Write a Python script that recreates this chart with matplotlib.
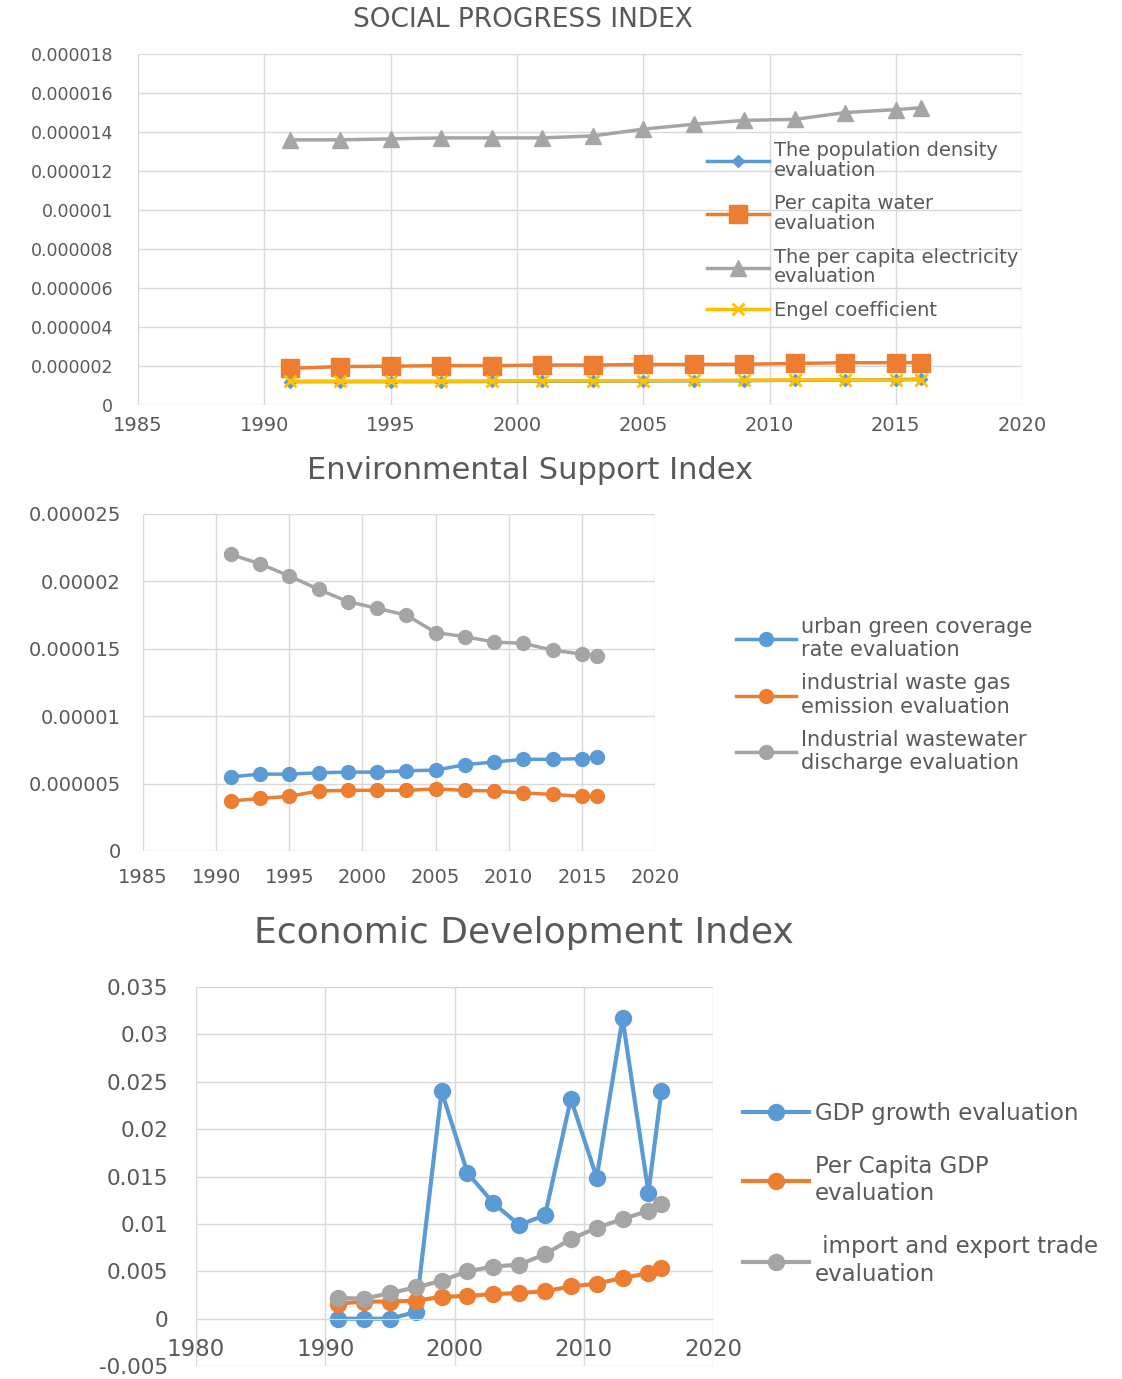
import matplotlib
matplotlib.use('Agg')
import matplotlib.pyplot as plt

# years shared by all three panels
years = [1991, 1993, 1995, 1997, 1999, 2001, 2003, 2005, 2007, 2009, 2011, 2013, 2015, 2016]

# --- Social progress index ---
pop_density = [1.20e-6, 1.20e-6, 1.20e-6, 1.20e-6, 1.21e-6, 1.22e-6, 1.22e-6, 1.23e-6, 1.24e-6, 1.25e-6, 1.27e-6, 1.28e-6, 1.30e-6, 1.33e-6]
water = [1.88e-6, 1.97e-6, 1.99e-6, 2.02e-6, 2.02e-6, 2.05e-6, 2.05e-6, 2.08e-6, 2.08e-6, 2.09e-6, 2.13e-6, 2.17e-6, 2.17e-6, 2.18e-6]
electricity = [1.36e-5, 1.36e-5, 1.365e-5, 1.37e-5, 1.37e-5, 1.37e-5, 1.38e-5, 1.415e-5, 1.44e-5, 1.46e-5, 1.465e-5, 1.50e-5, 1.515e-5, 1.525e-5]
engel = [1.22e-6, 1.22e-6, 1.22e-6, 1.22e-6, 1.23e-6, 1.24e-6, 1.24e-6, 1.25e-6, 1.26e-6, 1.27e-6, 1.29e-6, 1.29e-6, 1.28e-6, 1.30e-6]
social_labels = ['The population density\nevaluation', 'Per capita water\nevaluation',
                 'The per capita electricity\nevaluation', 'Engel coefficient']
social_yticks = [0, 0.000002, 0.000004, 0.000006, 0.000008, 0.00001, 0.000012, 0.000014, 0.000016, 0.000018]
social_yticklabels = ['0', '0.000002', '0.000004', '0.000006', '0.000008', '0.00001', '0.000012', '0.000014', '0.000016', '0.000018']

# --- Environmental support index ---
green = [5.5e-6, 5.7e-6, 5.7e-6, 5.8e-6, 5.85e-6, 5.85e-6, 5.95e-6, 6.0e-6, 6.4e-6, 6.6e-6, 6.8e-6, 6.8e-6, 6.85e-6, 6.95e-6]
waste_gas = [3.7e-6, 3.9e-6, 4.05e-6, 4.45e-6, 4.5e-6, 4.5e-6, 4.5e-6, 4.6e-6, 4.5e-6, 4.45e-6, 4.3e-6, 4.2e-6, 4.05e-6, 4.05e-6]
wastewater = [2.2e-5, 2.13e-5, 2.04e-5, 1.94e-5, 1.85e-5, 1.8e-5, 1.75e-5, 1.62e-5, 1.59e-5, 1.55e-5, 1.54e-5, 1.49e-5, 1.46e-5, 1.45e-5]
env_labels = ['urban green coverage\nrate evaluation', 'industrial waste gas\nemission evaluation',
              'Industrial wastewater\ndischarge evaluation']
env_yticks = [0, 0.000005, 0.00001, 0.000015, 0.00002, 0.000025]
env_yticklabels = ['0', '0.000005', '0.00001', '0.000015', '0.00002', '0.000025']

# --- Economic development index ---
gdp_growth = [0.0, 0.0, 0.0, 0.0007, 0.024, 0.0154, 0.0122, 0.0099, 0.0109, 0.0232, 0.0149, 0.0317, 0.0133, 0.024]
gdp_per_capita = [0.0016, 0.0018, 0.0018, 0.0019, 0.0023, 0.0024, 0.0026, 0.0027, 0.0029, 0.0034, 0.0037, 0.0043, 0.0048, 0.0053]
trade = [0.0022, 0.0021, 0.0027, 0.0033, 0.004, 0.005, 0.0055, 0.0057, 0.0068, 0.0084, 0.0096, 0.0105, 0.0114, 0.0121]
eco_labels = ['GDP growth evaluation', 'Per Capita GDP\nevaluation', ' import and export trade\nevaluation']
eco_yticks = [-0.005, 0, 0.005, 0.01, 0.015, 0.02, 0.025, 0.03, 0.035]
eco_yticklabels = ['-0.005', '0', '0.005', '0.01', '0.015', '0.02', '0.025', '0.03', '0.035']

BLUE = '#5B9BD5'
ORANGE = '#ED7D31'
GRAY = '#A5A5A5'
YELLOW = '#FFC000'
GRID = '#D9D9D9'
TEXT = '#595959'

plt.rcParams['font.family'] = ['DejaVu Sans']
fig = plt.figure(figsize=(11.22, 13.79), dpi=100)


def style_axes(ax, xlim, xticks, ylim, yticks, yticklabels):
    ax.set_xlim(*xlim)
    ax.set_ylim(*ylim)
    ax.set_xticks(xticks)
    ax.set_yticks(yticks)
    ax.set_yticklabels(yticklabels)
    ax.grid(True, color=GRID, linewidth=1)
    ax.set_axisbelow(True)
    for s in ax.spines.values():
        s.set_visible(False)
    ax.tick_params(length=0, colors=TEXT)


def style_legend(leg, spacing):
    for t in leg.get_texts():
        t.set_color(TEXT)
        t.set_linespacing(spacing)


# panel 1
ax1 = fig.add_axes([0.123, 0.7063, 0.788, 0.2545])
style_axes(ax1, (1985, 2020), range(1985, 2021, 5), (0, 0.000018),
           social_yticks, social_yticklabels)
ax1.tick_params(axis='y', labelsize=12.5, pad=18)
ax1.tick_params(axis='x', labelsize=14, pad=8)
ax1.plot(years, pop_density, color=BLUE, lw=2.5, marker='D', ms=6, label=social_labels[0])
ax1.plot(years, water, color=ORANGE, lw=2.5, marker='s', ms=13, label=social_labels[1])
ax1.plot(years, electricity, color=GRAY, lw=2.5, marker='^', ms=11, label=social_labels[2])
ax1.plot(years, engel, color=YELLOW, lw=2.5, marker='x', ms=9, mew=2, label=social_labels[3])
leg = ax1.legend(loc='upper left', bbox_to_anchor=(0.632, 0.78), frameon=False,
                 fontsize=14, handlelength=3.2, labelspacing=0.75, borderpad=0, handletextpad=0.25)
style_legend(leg, 1.05)
fig.text(0.466, 0.9855, 'SOCIAL PROGRESS INDEX', ha='center', va='center',
         fontsize=19, color=TEXT)

# panel 2
ax2 = fig.add_axes([0.1275, 0.3829, 0.4563, 0.2444])
style_axes(ax2, (1985, 2020), range(1985, 2021, 5), (0, 0.000025),
           env_yticks, env_yticklabels)
ax2.tick_params(axis='y', labelsize=14, pad=16)
ax2.tick_params(axis='x', labelsize=14, pad=12)
ax2.plot(years, green, color=BLUE, lw=2.5, marker='o', ms=10, label=env_labels[0])
ax2.plot(years, waste_gas, color=ORANGE, lw=2.5, marker='o', ms=10, label=env_labels[1])
ax2.plot(years, wastewater, color=GRAY, lw=2.5, marker='o', ms=10, label=env_labels[2])
leg = ax2.legend(loc='center left', bbox_to_anchor=(1.137, 0.463), frameon=False,
                 fontsize=15, handlelength=2.9, labelspacing=0.65, borderpad=0, handletextpad=0.25)
style_legend(leg, 1.2)
fig.text(0.472, 0.659, 'Environmental Support Index', ha='center', va='center',
         fontsize=22, color=TEXT)

# panel 3
ax3 = fig.add_axes([0.1747, 0.0094, 0.4608, 0.2748])
style_axes(ax3, (1980, 2020), range(1980, 2021, 10), (-0.005, 0.035),
           eco_yticks, eco_yticklabels)
ax3.spines['bottom'].set_visible(True)
ax3.spines['bottom'].set_position(('data', 0))
ax3.spines['bottom'].set_color(GRID)
ax3.tick_params(axis='y', labelsize=15.5, pad=20)
ax3.tick_params(axis='x', labelsize=16.5, pad=14)
ax3.plot(years, gdp_growth, color=BLUE, lw=3, marker='o', ms=11.5, label=eco_labels[0])
ax3.plot(years, gdp_per_capita, color=ORANGE, lw=3, marker='o', ms=11.5, label=eco_labels[1])
ax3.plot(years, trade, color=GRAY, lw=3, marker='o', ms=11.5, label=eco_labels[2])
leg = ax3.legend(loc='center left', bbox_to_anchor=(1.035, 0.454), frameon=False,
                 fontsize=16.5, handlelength=2.9, labelspacing=1.3, borderpad=0, handletextpad=0.25)
style_legend(leg, 1.25)
fig.text(0.467, 0.3234, 'Economic Development Index', ha='center', va='center',
         fontsize=26, color=TEXT)

fig.savefig('out.png', dpi=100)
